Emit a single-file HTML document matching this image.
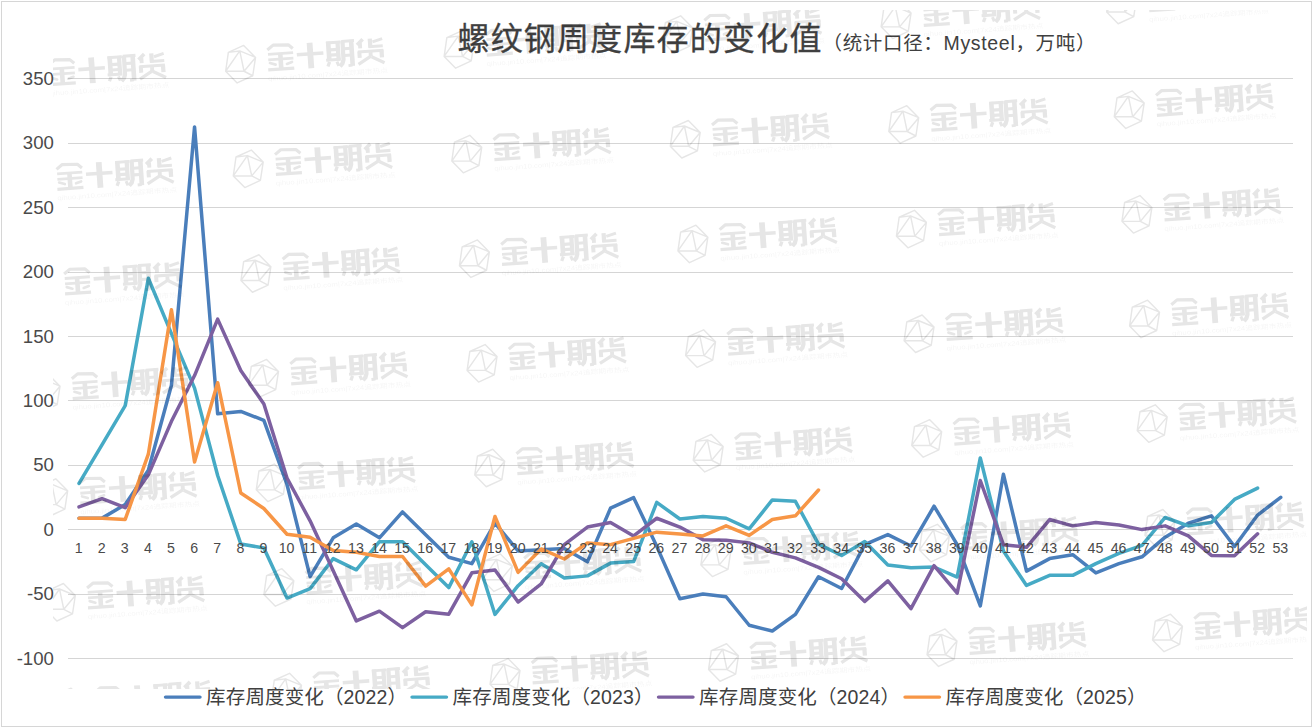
<!DOCTYPE html>
<html lang="zh"><head><meta charset="utf-8"><title>螺纹钢周度库存的变化值</title><style>html,body{margin:0;padding:0;background:#fff;overflow:hidden}body{width:1312px;height:727px;font-family:"Liberation Sans",sans-serif}</style></head><body><svg width="1312" height="727" viewBox="0 0 1312 727" style="display:block;font-family:'Liberation Sans',sans-serif"><defs><g id="wm"><path d="M3.1 -18.7 L15 -6.7 L12.2 11.6 L-3.4 18.8 L-14.9 7.1 L-12.2 -11.8ZM-12.2 -11.8 L-0.8 -13.2 L15 -6.7 L3.5 7.1 L12.2 11.6 M-0.8 -13.2 L-14.9 7.1 M-0.8 -13.2 L3.5 7.1 M3.5 7.1 L-14.9 7.1" fill="none" stroke="#000" stroke-width="1.45" stroke-linejoin="round"/><g transform="rotate(-4)"><g fill="none" stroke="#000" stroke-linejoin="round"><path d="M27.72 -12.28 L33.80 -16.71 L48.92 -15.95 L53.19 -11.95" stroke-width="3.15" stroke-linecap="butt"/><path d="M28.02 -7.82 L53.21 -7.82" stroke-width="2.79" stroke-linecap="butt"/><path d="M27.94 -2.37 L53.13 -2.37" stroke-width="2.79" stroke-linecap="butt"/><path d="M40.34 -7.87 L40.33 7.91" stroke-width="4.60" stroke-linecap="butt"/><path d="M29.41 0.95 L34.97 2.92" stroke-width="2.66" stroke-linecap="round"/><path d="M46.26 2.98 L51.47 1.40" stroke-width="2.66" stroke-linecap="round"/><path d="M27.24 7.60 L53.34 7.60" stroke-width="3.27" stroke-linecap="butt"/><path d="M56.80 -5.39 L83.38 -5.35" stroke-width="3.63" stroke-linecap="butt"/><path d="M70.33 -16.58 L70.35 9.10" stroke-width="5.81" stroke-linecap="butt"/><path d="M88.88 -16.38 L88.86 3.04" stroke-width="4.60" stroke-linecap="butt"/><path d="M98.23 -16.33 L98.20 3.09" stroke-width="4.24" stroke-linecap="butt"/><path d="M86.67 -15.14 L101.12 -15.16" stroke-width="2.91" stroke-linecap="butt"/><path d="M90.30 -8.03 L97.58 -8.00" stroke-width="3.15" stroke-linecap="butt"/><path d="M90.05 -2.70 L97.51 -2.67" stroke-width="3.15" stroke-linecap="butt"/><path d="M85.65 2.09 L100.22 2.08" stroke-width="3.03" stroke-linecap="butt"/><path d="M88.98 3.96 L87.03 8.38" stroke-width="3.27" stroke-linecap="butt"/><path d="M96.31 4.17 L97.94 8.53" stroke-width="3.03" stroke-linecap="butt"/><path d="M103.26 -16.28 L103.02 2.82 L101.74 6.37 L99.12 9.10" stroke-width="4.24" stroke-linecap="butt"/><path d="M111.90 -16.59 L111.84 9.50" stroke-width="4.60" stroke-linecap="butt"/><path d="M111.59 8.76 L107.63 8.97" stroke-width="2.91" stroke-linecap="butt"/><path d="M102.06 -15.58 L114.81 -15.60" stroke-width="3.03" stroke-linecap="butt"/><path d="M104.57 -8.12 L110.94 -8.10" stroke-width="3.03" stroke-linecap="butt"/><path d="M104.29 -1.46 L110.96 -1.42" stroke-width="3.03" stroke-linecap="butt"/><path d="M123.54 -16.38 L117.52 -11.04" stroke-width="3.63" stroke-linecap="butt"/><path d="M120.49 -12.65 L120.49 -7.49" stroke-width="3.88" stroke-linecap="butt"/><path d="M130.65 -16.49 L130.68 -7.39" stroke-width="4.24" stroke-linecap="butt"/><path d="M133.14 -12.98 L143.03 -15.63" stroke-width="3.03" stroke-linecap="butt"/><path d="M128.87 -8.42 L143.14 -8.46" stroke-width="3.03" stroke-linecap="butt"/><path d="M117.93 -3.91 L143.43 -3.95" stroke-width="3.03" stroke-linecap="butt"/><path d="M119.31 -4.54 L119.33 2.14" stroke-width="4.00" stroke-linecap="butt"/><path d="M141.53 -4.50 L141.60 3.09" stroke-width="4.24" stroke-linecap="butt"/><path d="M130.49 -2.85 L130.47 1.70" stroke-width="3.88" stroke-linecap="butt"/><path d="M130.63 1.11 L117.68 8.40" stroke-width="3.27" stroke-linecap="butt"/><path d="M131.20 1.75 L143.76 8.70" stroke-width="3.27" stroke-linecap="butt"/></g><g opacity="0.42"><text x="26.5" y="18.6" font-size="6.6" fill="#000" textLength="120" lengthAdjust="spacingAndGlyphs" style="font-family:'Liberation Sans','Noto Sans CJK SC',sans-serif">qihuo.jin10.com|7x24追踪期市热点</text></g></g></g><clipPath id="wmclip"><rect x="53" y="10" width="1253.6" height="679"/></clipPath></defs><rect width="1312" height="727" fill="#fff"/><path d="M68 78.5 H1293 M68 143.5 H1293 M68 207.5 H1293 M68 272.5 H1293 M68 336.5 H1293 M68 400.5 H1293 M68 465.5 H1293 M68 529.5 H1293 M68 594.5 H1293 M68 658.5 H1293" stroke="#d5d5d5" stroke-width="1" fill="none"/>
<g fill="#4a4a4a" font-size="18.6" text-anchor="end" style="font-family:'Liberation Sans',sans-serif"><text x="53.9" y="664.79">-100</text><text x="53.9" y="600.34">-50</text><text x="53.9" y="535.9">0</text><text x="53.9" y="471.46">50</text><text x="53.9" y="407.01">100</text><text x="53.9" y="342.57">150</text><text x="53.9" y="278.12">200</text><text x="53.9" y="213.68">250</text><text x="53.9" y="149.23">300</text><text x="53.9" y="84.79">350</text></g>
<polyline points="79,518.26 102.11,518.13 125.22,504.47 148.33,470.31 171.44,385.24 194.55,126.95 217.66,413.86 240.77,411.41 263.88,420.3 286.99,484.49 310.1,576.64 333.21,537.85 356.32,524.06 379.43,537.85 402.54,511.94 425.65,534.76 448.76,557.31 471.87,563.63 494.98,523.16 518.09,551 541.2,549.71 564.31,548.42 587.42,561.82 610.53,508.2 633.64,497.64 656.75,546.36 679.86,598.81 702.97,594.04 726.08,596.75 749.19,625.24 772.3,631.04 795.41,614.41 818.52,576.77 841.63,588.5 864.74,544.68 887.85,534.63 910.96,545.97 934.07,506.14 957.18,544.68 980.29,605.9 1003.4,474.18 1026.51,571.1 1049.62,558.6 1072.73,554.73 1095.84,572.91 1118.95,563.63 1142.06,556.8 1165.17,537.2 1188.28,523.28 1211.39,515.81 1234.5,546.48 1257.61,515.04 1280.72,497.38" fill="none" stroke="#4A7EBB" stroke-width="3.5" stroke-linejoin="round" stroke-linecap="round"/>
<polyline points="79,483.46 102.11,444.53 125.22,405.61 148.33,278.27 171.44,333.69 194.55,388.08 217.66,475.47 240.77,543.91 263.88,548.03 286.99,598.04 310.1,588.63 333.21,558.6 356.32,569.81 379.43,541.72 402.54,541.72 425.65,564.79 448.76,587.6 471.87,541.72 494.98,614.41 518.09,585.67 541.2,563.76 564.31,578.06 587.42,575.87 610.53,563.11 633.64,561.56 656.75,502.4 679.86,519.03 702.97,516.45 726.08,518.26 749.19,528.83 772.3,499.96 795.41,501.37 818.52,544.16 841.63,555.51 864.74,541.46 887.85,564.92 910.96,567.75 934.07,566.98 957.18,577.03 980.29,457.94 1003.4,551 1026.51,585.41 1049.62,575.36 1072.73,575.36 1095.84,563.63 1118.95,553.44 1142.06,545.45 1165.17,517.48 1188.28,525.86 1211.39,522.51 1234.5,499.44 1257.61,488.1" fill="none" stroke="#46AAC5" stroke-width="3.5" stroke-linejoin="round" stroke-linecap="round"/>
<polyline points="79,506.92 102.11,498.67 125.22,507.69 148.33,474.82 171.44,421.33 194.55,375.58 217.66,319.12 240.77,370.42 263.88,404.06 286.99,478.04 310.1,520.84 333.21,570.84 356.32,620.98 379.43,611.19 402.54,627.68 425.65,611.7 448.76,614.15 471.87,572.78 494.98,569.94 518.09,602.04 541.2,583.99 564.31,544.68 587.42,527.02 610.53,522.51 633.64,535.92 656.75,518.26 679.86,527.02 702.97,539.65 726.08,540.17 749.19,542.88 772.3,552.28 795.41,557.83 818.52,567.36 841.63,578.71 864.74,601.39 887.85,580.9 910.96,608.61 934.07,565.69 957.18,593.14 980.29,480.49 1003.4,544.68 1026.51,547.26 1049.62,519.55 1072.73,525.86 1095.84,522.51 1118.95,525.09 1142.06,529.6 1165.17,525.86 1188.28,535.92 1211.39,555.38 1234.5,555.76 1257.61,533.85" fill="none" stroke="#7D60A0" stroke-width="3.5" stroke-linejoin="round" stroke-linecap="round"/>
<polyline points="79,518.26 102.11,518.26 125.22,519.42 148.33,454.2 171.44,309.84 194.55,462.06 217.66,382.67 240.77,493 263.88,508.46 286.99,534.24 310.1,537.2 333.21,550.48 356.32,552.28 379.43,556.54 402.54,556.54 425.65,586.05 448.76,568.91 471.87,604.87 494.98,516.45 518.09,572.39 541.2,548.93 564.31,558.99 587.42,542.88 610.53,544.68 633.64,538.36 656.75,532.18 679.86,534.11 702.97,535.92 726.08,525.86 749.19,535.4 772.3,519.55 795.41,515.81 818.52,490.03" fill="none" stroke="#F79646" stroke-width="3.5" stroke-linejoin="round" stroke-linecap="round"/>
<g fill="#4a4a4a" font-size="14.2" text-anchor="middle" style="font-family:'Liberation Sans',sans-serif"><text x="78.6" y="553">1</text><text x="101.71" y="553">2</text><text x="124.82" y="553">3</text><text x="147.93" y="553">4</text><text x="171.04" y="553">5</text><text x="194.15" y="553">6</text><text x="217.26" y="553">7</text><text x="240.37" y="553">8</text><text x="263.48" y="553">9</text><text x="286.59" y="553">10</text><text x="309.7" y="553">11</text><text x="332.81" y="553">12</text><text x="355.92" y="553">13</text><text x="379.03" y="553">14</text><text x="402.14" y="553">15</text><text x="425.25" y="553">16</text><text x="448.36" y="553">17</text><text x="471.47" y="553">18</text><text x="494.58" y="553">19</text><text x="517.69" y="553">20</text><text x="540.8" y="553">21</text><text x="563.91" y="553">22</text><text x="587.02" y="553">23</text><text x="610.13" y="553">24</text><text x="633.24" y="553">25</text><text x="656.35" y="553">26</text><text x="679.46" y="553">27</text><text x="702.57" y="553">28</text><text x="725.68" y="553">29</text><text x="748.79" y="553">30</text><text x="771.9" y="553">31</text><text x="795.01" y="553">32</text><text x="818.12" y="553">33</text><text x="841.23" y="553">34</text><text x="864.34" y="553">35</text><text x="887.45" y="553">36</text><text x="910.56" y="553">37</text><text x="933.67" y="553">38</text><text x="956.78" y="553">39</text><text x="979.89" y="553">40</text><text x="1003" y="553">41</text><text x="1026.11" y="553">42</text><text x="1049.22" y="553">43</text><text x="1072.33" y="553">44</text><text x="1095.44" y="553">45</text><text x="1118.55" y="553">46</text><text x="1141.66" y="553">47</text><text x="1164.77" y="553">48</text><text x="1187.88" y="553">49</text><text x="1210.99" y="553">50</text><text x="1234.1" y="553">51</text><text x="1257.21" y="553">52</text><text x="1280.32" y="553">53</text></g>
<g fill="#404040" style="font-family:'Liberation Sans','Noto Sans CJK SC',sans-serif"><text x="457.43" y="50.3" font-size="32" stroke="#404040" stroke-width="0.3" textLength="364" lengthAdjust="spacing">螺纹钢周度库存的变化值</text><text x="822.45" y="50.2" font-size="19.5" textLength="273" lengthAdjust="spacing">（统计口径：Mysteel，万吨）</text></g>
<path d="M165.5 697.1 h34.5" stroke="#4A7EBB" stroke-width="3.4" stroke-linecap="round" fill="none"/>
<path d="M412 697.1 h34.5" stroke="#46AAC5" stroke-width="3.4" stroke-linecap="round" fill="none"/>
<path d="M658.5 697.1 h34.5" stroke="#7D60A0" stroke-width="3.4" stroke-linecap="round" fill="none"/>
<path d="M905 697.1 h34.5" stroke="#F79646" stroke-width="3.4" stroke-linecap="round" fill="none"/>
<g fill="#404040" font-size="19.5" style="font-family:'Liberation Sans','Noto Sans CJK SC',sans-serif"><text x="206.1" y="703.6" textLength="201" lengthAdjust="spacing">库存周度变化（2022）</text><text x="452.6" y="703.6" textLength="201" lengthAdjust="spacing">库存周度变化（2023）</text><text x="699.1" y="703.6" textLength="201" lengthAdjust="spacing">库存周度变化（2024）</text><text x="945.6" y="703.6" textLength="201" lengthAdjust="spacing">库存周度变化（2025）</text></g>
<rect x="1.5" y="1.5" width="1310" height="725" fill="none" stroke="#d6d6d6" stroke-width="1"/>
<g opacity="0.1" clip-path="url(#wmclip)"><use href="#wm" x="14.4" y="-25.7"/><use href="#wm" x="22.05" y="78.95"/><use href="#wm" x="29.7" y="183.6"/><use href="#wm" x="37.35" y="288.25"/><use href="#wm" x="45" y="392.9"/><use href="#wm" x="52.65" y="497.55"/><use href="#wm" x="60.3" y="602.2"/><use href="#wm" x="67.95" y="706.85"/><use href="#wm" x="240.55" y="64.15"/><use href="#wm" x="248.2" y="168.8"/><use href="#wm" x="255.85" y="273.45"/><use href="#wm" x="263.5" y="378.1"/><use href="#wm" x="271.15" y="482.75"/><use href="#wm" x="278.8" y="587.4"/><use href="#wm" x="286.45" y="692.05"/><use href="#wm" x="459.05" y="49.35"/><use href="#wm" x="466.7" y="154"/><use href="#wm" x="474.35" y="258.65"/><use href="#wm" x="482" y="363.3"/><use href="#wm" x="489.65" y="467.95"/><use href="#wm" x="497.3" y="572.6"/><use href="#wm" x="504.95" y="677.25"/><use href="#wm" x="677.55" y="34.55"/><use href="#wm" x="685.2" y="139.2"/><use href="#wm" x="692.85" y="243.85"/><use href="#wm" x="700.5" y="348.5"/><use href="#wm" x="708.15" y="453.15"/><use href="#wm" x="715.8" y="557.8"/><use href="#wm" x="723.45" y="662.45"/><use href="#wm" x="896.05" y="19.75"/><use href="#wm" x="903.7" y="124.4"/><use href="#wm" x="911.35" y="229.05"/><use href="#wm" x="919" y="333.7"/><use href="#wm" x="926.65" y="438.35"/><use href="#wm" x="934.3" y="543"/><use href="#wm" x="941.95" y="647.65"/><use href="#wm" x="1121.55" y="4.95"/><use href="#wm" x="1129.2" y="109.6"/><use href="#wm" x="1136.85" y="214.25"/><use href="#wm" x="1144.5" y="318.9"/><use href="#wm" x="1152.15" y="423.55"/><use href="#wm" x="1159.8" y="528.2"/><use href="#wm" x="1167.45" y="632.85"/><use href="#wm" x="1340.05" y="-9.85"/></g></svg></body></html>
